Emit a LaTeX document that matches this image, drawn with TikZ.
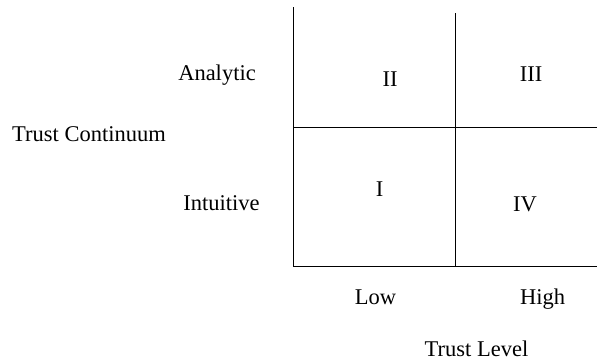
\documentclass[tikz,border=0pt]{standalone}
\usepackage{fontspec}
\setmainfont{Liberation Serif}
\begin{document}
\begin{tikzpicture}[x=1pt,y=-1pt,
  axis/.style={line width=1.8pt,black},
  divider/.style={line width=1pt,black},
  lbl/.style={anchor=base,inner sep=0pt,font=\fontsize{22.5}{26}\selectfont}]
\useasboundingbox (0,0) rectangle (597,362);
% axes
\coordinate (top) at (293.5,7);
\coordinate (origin) at (293.5,266.5);
\coordinate (right) at (597,266.5);
\draw[axis] (top) -- (origin) -- (right);
% quadrant dividers
\coordinate (vtop) at (455,13);
\coordinate (vbot) at (455,266.5);
\coordinate (hl) at (293.5,127.5);
\coordinate (hr) at (597,127.5);
\draw[divider] (vtop) -- (vbot);
\draw[divider] (hl) -- (hr);
% quadrant labels
\node[lbl] (q2) at (390,86) {II};
\node[lbl] (q3) at (531,81) {III};
\node[lbl] (q1) at (379.5,196) {I};
\node[lbl] (q4) at (525,211) {IV};
% vertical axis labels
\node[lbl] (analytic) at (217,80.5) {Analytic};
\node[lbl] (continuum) at (89,141.5) {Trust Continuum};
\node[lbl] (intuitive) at (221.5,210.5) {Intuitive};
% horizontal axis labels
\node[lbl] (low) at (375.5,304) {Low};
\node[lbl] (high) at (542.5,304) {High};
\node[lbl] (level) at (476.5,356) {Trust Level};
\end{tikzpicture}
\end{document}
